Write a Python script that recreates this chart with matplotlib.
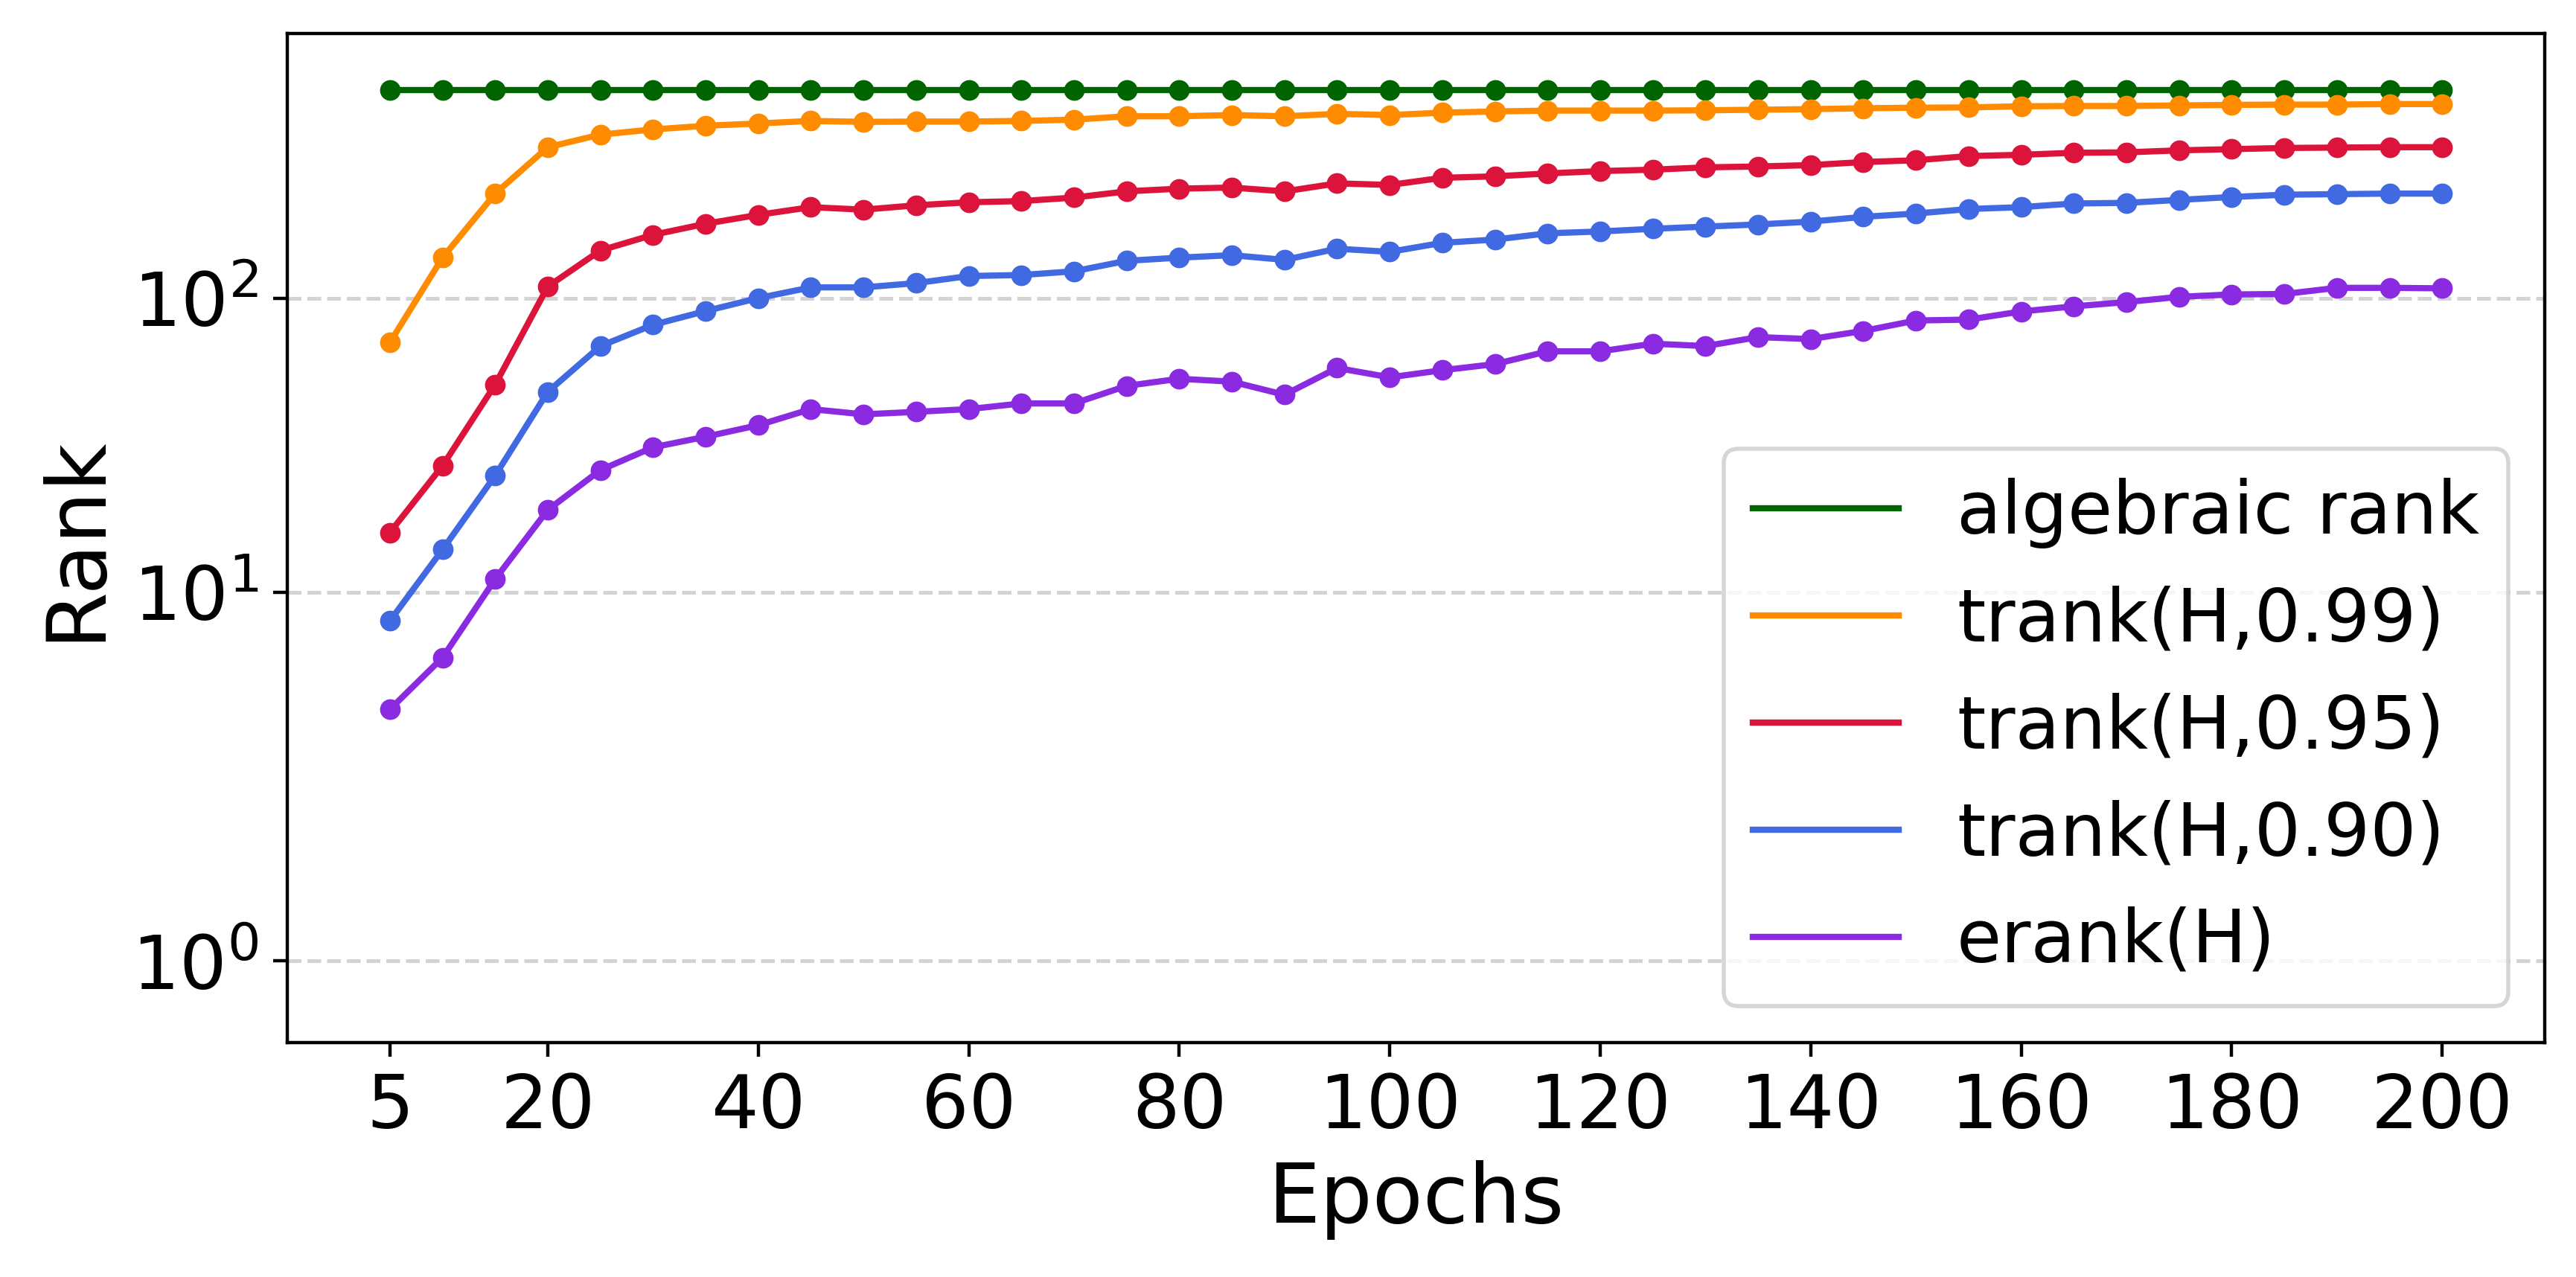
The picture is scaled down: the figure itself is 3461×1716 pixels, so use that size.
import numpy as np
import matplotlib
matplotlib.use("Agg")
import matplotlib.pyplot as plt
from matplotlib.ticker import NullLocator

# epochs sampled every 5
epochs = list(range(5, 205, 5))

algebraic_rank = [512] * 40

trank_099 = [71, 138, 228, 328, 362, 377, 388, 395, 403, 400,
             401, 401, 403, 407, 418, 418, 422, 418, 426, 422,
             430, 434, 437, 437, 437, 438, 440, 442, 445, 447,
             448, 452, 453, 453, 455, 457, 458, 458, 460, 460]

trank_095 = [16, 27, 51, 110, 146, 165, 180, 193, 205, 201,
             208, 213, 215, 221, 232, 237, 239, 232, 247, 244,
             258, 261, 267, 272, 275, 280, 282, 285, 292, 296,
             306, 309, 314, 315, 320, 323, 326, 327, 328, 328]

trank_090 = [8.0, 14.0, 25.0, 48.2, 69, 81.5, 90.8, 100.5, 109.3, 109.3,
             113, 119.5, 120.4, 124, 134.6, 138, 140.7, 135.6, 148, 144.4,
             155, 159, 167, 169.4, 173, 176, 179, 183, 190, 195,
             202, 205, 211, 212, 217, 222, 226, 227, 228, 228]

erank = [4.0, 6.0, 11.1, 19.1, 26.1, 31.2, 33.9, 37.1, 42.1, 40.4,
         41.2, 42.1, 44.0, 44.0, 50.5, 53.4, 52.2, 47.1, 58.1, 54.0,
         57.1, 59.9, 66.2, 66.2, 70.3, 69.0, 74.0, 72.9, 77.7, 84.3,
         84.9, 90.5, 94.2, 97.4, 101.5, 103.4, 103.8, 108.9, 108.9, 108.5]

labels = ['algebraic rank', 'trank(H,0.99)', 'trank(H,0.95)', 'trank(H,0.90)', 'erank(H)']
colors = ['darkgreen', 'darkorange', 'crimson', 'royalblue', 'blueviolet']
series = [algebraic_rank, trank_099, trank_095, trank_090, erank]

xticks = [5, 20, 40, 60, 80, 100, 120, 140, 160, 180, 200]

fig, ax = plt.subplots(figsize=(8.655, 4.29), dpi=400)
fig.subplots_adjust(left=0.1115, right=0.9876, bottom=0.1836, top=0.9738)

for vals, c, lab in zip(series, colors, labels):
    ax.plot(epochs, vals, color=c, linewidth=1.5, label=lab)
    ax.plot(epochs, vals, 'o', color=c, markersize=4)

ax.set_yscale('symlog', linthresh=2)
ax.set_ylim(0.5, 800)
ax.set_yticks([1, 10, 100])
ax.yaxis.set_minor_locator(NullLocator())
ax.set_xticks(xticks)

ax.grid(axis='y', linestyle='--', color='lightgray', linewidth=0.9)

ax.set_xlabel('Epochs', fontsize=20)
ax.set_ylabel('Rank', fontsize=20)
ax.tick_params(axis='both', labelsize=18)
ax.legend(loc='lower right', fontsize=17.6)

fig.savefig('out.png', dpi=400)
